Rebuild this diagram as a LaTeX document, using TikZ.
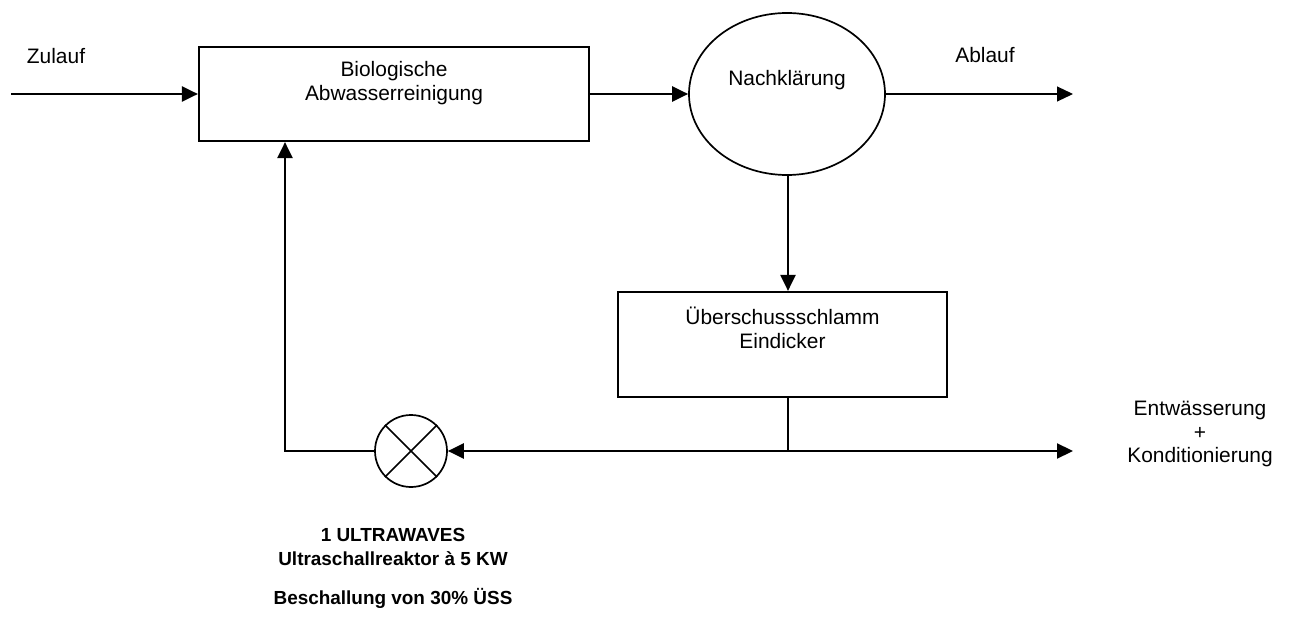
\documentclass[tikz,border=0pt]{standalone}
\usepackage{fontspec}
\setmainfont{Liberation Sans}
\usetikzlibrary{arrows.meta,shapes.geometric}
\begin{document}
\begin{tikzpicture}[x=1bp,y=-1bp,
  lbl/.style={inner sep=0pt,align=center,font=\fontsize{21}{24}\selectfont},
  blbl/.style={inner sep=0pt,align=center,font=\fontsize{19}{24}\selectfont\bfseries},
  boxs/.style={draw,line width=2.2bp,rectangle,inner sep=0pt},
  flow/.style={line width=2.2bp,-{Triangle[length=16bp,width=15bp]}},
  thinflow/.style={line width=1.1bp,-{Triangle[length=16bp,width=15bp]}},
  plain/.style={line width=2.2bp}]
\useasboundingbox (0,0) rectangle (1290,619);
% nodes
\node[boxs,minimum width=390bp,minimum height=94bp] (bio) at (394,94) {};
\node[lbl] (biot) at (394,83) {Biologische\\Abwasserreinigung};
\node[draw,ellipse,line width=1.7bp,minimum width=196bp,minimum height=162bp,inner sep=0pt] (nach) at (787,94) {};
\node[lbl] (nacht) at (787,80) {Nachklärung};
\node[boxs,minimum width=329bp,minimum height=105bp] (ues) at (782.5,344.5) {};
\node[lbl] (uest) at (782.5,328) {Überschussschlamm\\Eindicker};
\node[draw,circle,line width=1.7bp,minimum size=72bp,inner sep=0pt] (mix) at (411,451) {};
\draw[line width=1.7bp] (mix.north east) -- (mix.south west) (mix.north west) -- (mix.south east);
\node[lbl] (zul) at (56,56) {Zulauf};
\node[lbl] (abl) at (985,55) {Ablauf};
\node[lbl] (ent) at (1200,434) {Entwässerung\\+\\Konditionierung};
\node[blbl] (uw) at (393,547) {1 ULTRAWAVES\\Ultraschallreaktor à 5 KW};
\node[blbl] (bes) at (393,598) {Beschallung von 30\% ÜSS};
% coordinates
\coordinate (zin) at (11,94);
\coordinate (aout) at (1073,94);
\coordinate (athin) at (915,94);
\coordinate (j) at (788,451);
\coordinate (eout) at (1073,451);
\coordinate (fb) at (285,451);
% connectors
\draw[flow] (zin) -- (bio.west |- zin);
\draw[flow] (bio.east |- zin) -- (nach.west);
\draw[plain] (nach.east) -- (athin);
\draw[thinflow] (athin) -- (aout);
\draw[flow] (nach.south -| j) -- (ues.north -| j);
\draw[plain] (ues.south -| j) -- (j);
\draw[flow] (j) -- (eout);
\draw[flow] (j) -- (mix.east);
\draw[flow] (mix.west) -- (fb) -- (fb |- bio.south);
\end{tikzpicture}
\end{document}
